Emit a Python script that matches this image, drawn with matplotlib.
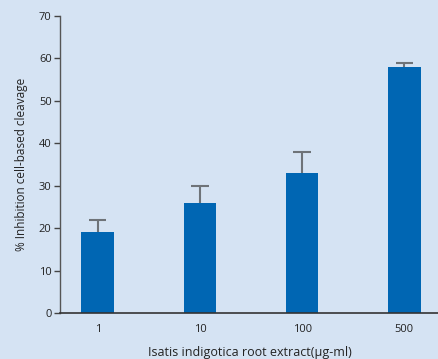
import matplotlib.pyplot as plt
import numpy as np

plt.rcParams["font.family"] = ["Open Sans", "DejaVu Sans"]

DOSES = ["1", "10", "100", "500"]
INHIBITION = [19, 26, 33, 58]
ERR_UP = [3, 4, 5, 1]
YTICKS = [0, 10, 20, 30, 40, 50, 60, 70]

BG = "#d5e3f3"
BAR = "#0066b3"
ERR = "#6e7378"

fig = plt.figure(figsize=(4.39, 3.59), dpi=100, facecolor=BG)
ax = fig.add_axes([0.1367, 0.1281, 0.8633, 0.8273], facecolor=BG)

x = np.arange(len(DOSES))
tops = np.array(INHIBITION) + np.array(ERR_UP)
ax.bar(x, INHIBITION, width=0.32, color=BAR, zorder=2)
# upper error whiskers only
ax.vlines(x, INHIBITION, tops, color=ERR, linewidth=1.5, zorder=1)
ax.hlines(tops, x - 0.085, x + 0.085, color=ERR, linewidth=1.5, zorder=1)

ax.set_xlim(-0.37, 3.34)
ax.set_ylim(0, 70)
ax.set_yticks(YTICKS)
ax.set_xticks(x)
ax.set_xticklabels(DOSES)
ax.tick_params(axis="x", length=0, pad=8, labelsize=8, colors="#222222")
ax.tick_params(axis="y", length=4, width=1, color="#444444", labelsize=8,
               colors="#222222", pad=2)

for side in ("top", "right"):
    ax.spines[side].set_visible(False)
ax.spines["left"].set_color("#555555")
ax.spines["bottom"].set_color("#333333")
ax.spines["left"].set_linewidth(1)
ax.spines["bottom"].set_linewidth(1.2)

ax.set_ylabel("% Inhibition cell-based cleavage", fontsize=8.5, color="#222222", labelpad=8)
ax.set_xlabel("Isatis indigotica root extract(μg-ml)", fontsize=9, color="#222222", labelpad=8)

fig.savefig("out.png", dpi=100, facecolor=BG)
